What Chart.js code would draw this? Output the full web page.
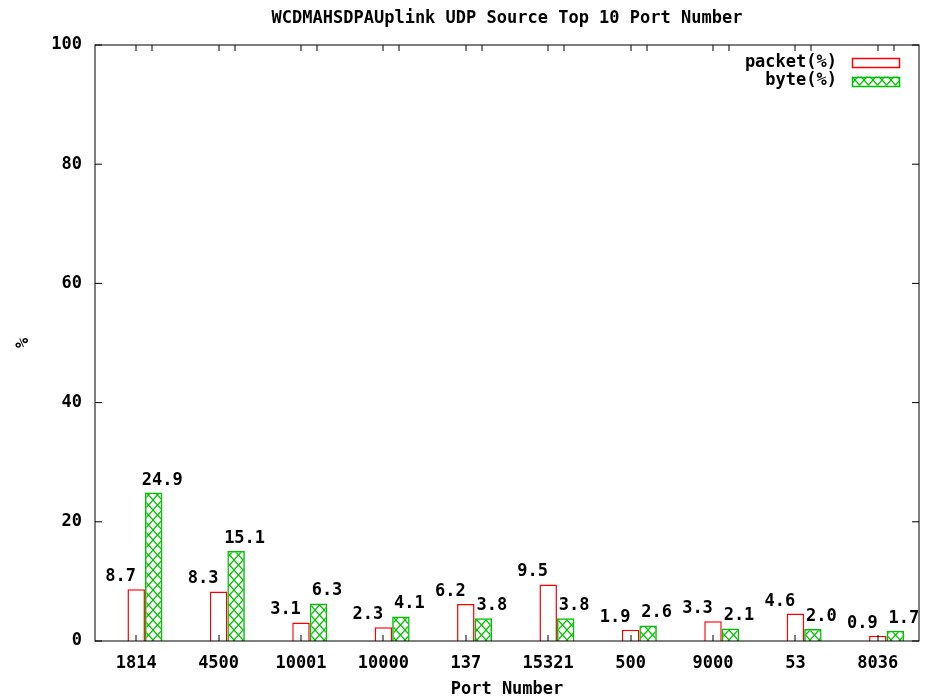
<!DOCTYPE html>
<html lang="en">
<head>
  <meta charset="UTF-8">
  <title>WCDMAHSDPAUplink UDP Source Top 10 Port Number</title>
  <script src="https://cdn.jsdelivr.net/npm/chart.js"></script>
  <style>
    html, body { margin: 0; padding: 0; background: #fff; }
    canvas { display: block; }
  </style>
</head>
<body>
  <canvas id="portChart" width="932" height="700"></canvas>

  <script>
    const ports = ["1814", "4500", "10001", "10000", "137", "15321", "500", "9000", "53", "8036"];
    const packetPct = [8.7, 8.3, 3.1, 2.3, 6.2, 9.5, 1.9, 3.3, 4.6, 0.9];
    const bytePct = [24.9, 15.1, 6.3, 4.1, 3.8, 3.8, 2.6, 2.1, 2.0, 1.7];
    const yTicks = [0, 20, 40, 60, 80, 100];

    const FONT = "'DejaVu Sans Mono', monospace";
    const RED = "#ff0000";
    const GREEN = "#00c000";

    const canvas = document.getElementById("portChart");
    const mainCtx = canvas.getContext("2d");

    // gnuplot style cross hatch fill
    function crossHatch() {
      const c = document.createElement("canvas");
      c.width = 9;
      c.height = 10;
      const g = c.getContext("2d");
      g.strokeStyle = GREEN;
      g.lineWidth = 1.2;
      g.beginPath();
      g.moveTo(0, 0); g.lineTo(9, 10);
      g.moveTo(9, 0); g.lineTo(0, 10);
      g.stroke();
      return mainCtx.createPattern(c, "repeat");
    }
    const hatch = crossHatch();

    const whiteBg = {
      id: "whiteBg",
      beforeDraw(chart) {
        const ctx = chart.ctx;
        ctx.save();
        ctx.fillStyle = "#fff";
        ctx.fillRect(0, 0, chart.width, chart.height);
        ctx.restore();
      }
    };

    // border box with inward ticks, mirrored like gnuplot
    const frame = {
      id: "frame",
      afterDatasetsDraw(chart) {
        const { ctx, chartArea: a, scales: { x, y } } = chart;
        ctx.save();
        ctx.strokeStyle = "#000";
        ctx.lineWidth = 1;
        ctx.strokeRect(a.left, a.top, a.right - a.left, a.bottom - a.top);
        ctx.beginPath();
        yTicks.forEach(v => {
          const py = y.getPixelForValue(v);
          ctx.moveTo(a.left, py); ctx.lineTo(a.left + 7, py);
          ctx.moveTo(a.right, py); ctx.lineTo(a.right - 7, py);
        });
        ports.forEach((p, i) => {
          const px = Math.round(x.getPixelForValue(i));
          ctx.moveTo(px, a.bottom); ctx.lineTo(px, a.bottom - 6);
          ctx.moveTo(px, a.top); ctx.lineTo(px, a.top + 6);
          ctx.moveTo(px + 16, a.top); ctx.lineTo(px + 16, a.top + 6);
        });
        ctx.stroke();
        ctx.restore();
      }
    };

    // numbers above the bars
    const valueLabels = {
      id: "valueLabels",
      afterDatasetsDraw(chart) {
        const { ctx, scales: { x } } = chart;
        const shift = { 1: -15.5, 2: 26 };
        ctx.save();
        ctx.font = "bold 17px " + FONT;
        ctx.fillStyle = "#000";
        ctx.textAlign = "center";
        ctx.textBaseline = "middle";
        [1, 2].forEach(d => {
          const meta = chart.getDatasetMeta(d);
          chart.data.datasets[d].data.forEach((v, i) => {
            const bar = meta.data[i];
            ctx.fillText(v.toFixed(1), x.getPixelForValue(i) + shift[d], bar.y - 12.5);
          });
        });
        ctx.restore();
      }
    };

    // key in the top right corner: text then sample box
    const gnuKey = {
      id: "gnuKey",
      afterDraw(chart) {
        const { ctx, chartArea: a } = chart;
        ctx.save();
        ctx.font = "bold 17px " + FONT;
        ctx.textAlign = "right";
        ctx.textBaseline = "middle";
        [1, 2].forEach((d, k) => {
          const ds = chart.data.datasets[d];
          const cy = a.top + 17.5 + k * 18.5;
          ctx.fillStyle = "#000";
          ctx.fillText(ds.label, a.right - 82, cy);
          const bx = a.right - 67, bw = 47, bh = 9;
          ctx.fillStyle = ds.backgroundColor;
          ctx.fillRect(bx, cy - bh / 2, bw, bh);
          ctx.strokeStyle = ds.borderColor;
          ctx.lineWidth = 1.5;
          ctx.strokeRect(bx + 0.5, Math.round(cy - bh / 2) + 0.5, bw, bh);
        });
        ctx.restore();
      }
    };

    const tickFont = { family: FONT, size: 17, weight: "bold" };

    new Chart(canvas, {
      type: "bar",
      data: {
        labels: ports,
        datasets: [
          { label: "", data: [] },
          {
            label: "packet(%)",
            data: packetPct,
            backgroundColor: "#fff",
            borderColor: RED,
            borderWidth: 1.5
          },
          {
            label: "byte(%)",
            data: bytePct,
            backgroundColor: hatch,
            borderColor: GREEN,
            borderWidth: 1.5
          }
        ]
      },
      options: {
        responsive: false,
        animation: false,
        devicePixelRatio: 1,
        events: [],
        categoryPercentage: 0.637,
        barPercentage: 1,
        layout: { padding: { left: 0, right: 13, top: 0, bottom: 0 } },
        plugins: {
          legend: { display: false },
          tooltip: { enabled: false },
          title: {
            display: true,
            text: "WCDMAHSDPAUplink UDP Source Top 10 Port Number",
            fullSize: false,
            color: "#000",
            font: tickFont,
            padding: { top: 8.8, bottom: 15.8 }
          }
        },
        scales: {
          x: {
            grid: { display: false },
            border: { display: false },
            ticks: { color: "#000", font: tickFont, padding: 4, maxRotation: 0, autoSkip: false },
            title: {
              display: true,
              text: "Port Number",
              color: "#000",
              font: tickFont,
              padding: { top: 0, bottom: 0 }
            },
            afterFit(s) { s.height = 59; }
          },
          y: {
            min: 0,
            max: 100,
            grid: { display: false },
            border: { display: false },
            ticks: { stepSize: 20, color: "#000", font: tickFont, padding: 5 },
            title: {
              display: true,
              text: "%",
              color: "#000",
              font: tickFont,
              padding: { top: 13, bottom: 0 }
            },
            afterFit(s) { s.width = 95; }
          }
        }
      },
      plugins: [whiteBg, frame, valueLabels, gnuKey]
    });
  </script>
</body>
</html>
